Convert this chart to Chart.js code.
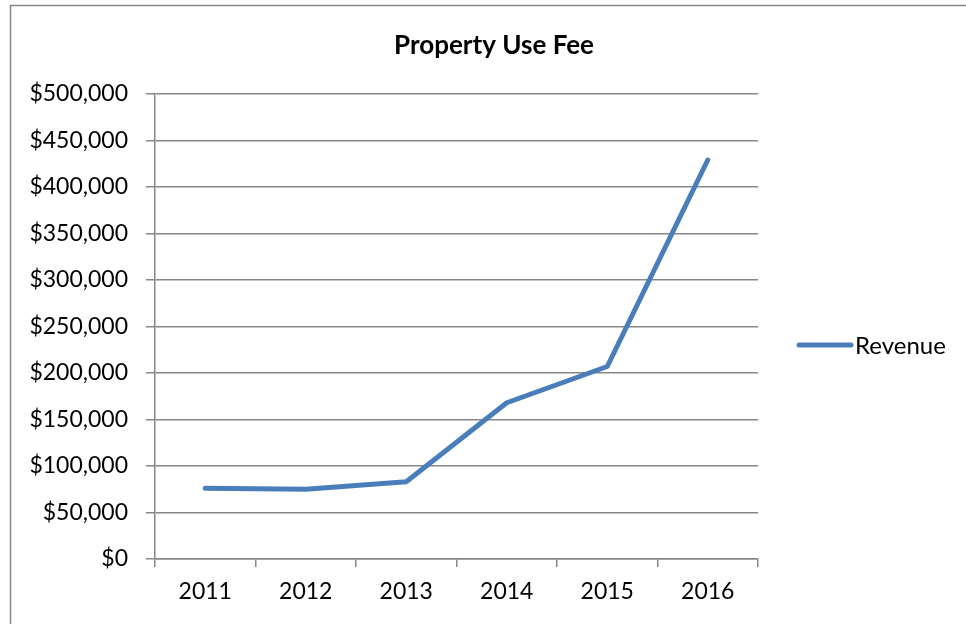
<!DOCTYPE html>
<html>
<head>
<meta charset="utf-8">
<script src="https://cdn.jsdelivr.net/npm/chart.js@4/dist/chart.umd.min.js"></script>
<style>
html,body{margin:0;padding:0;background:#fff;}
#wrap{width:966px;height:624px;position:relative;}
</style>
</head>
<body>
<div id="wrap"><canvas id="c" width="966" height="624"></canvas></div>
<script>
const chartTitle = "Property Use Fee";
const categories = ["2011", "2012", "2013", "2014", "2015", "2016"];
const seriesLabel = "Revenue";
const revenue = [76000, 75000, 83000, 168000, 207000, 429000];
const yTicks = [0, 50000, 100000, 150000, 200000, 250000, 300000, 350000, 400000, 450000, 500000];

const FONT = "Lato, 'Liberation Sans', sans-serif";
const LINE = "#4a7ebb";
const GRID = "#878787";

const decor = {
  id: "decor",
  beforeDraw(chart) {
    const ctx = chart.ctx;
    ctx.save();
    ctx.fillStyle = "#fff";
    ctx.fillRect(0, 0, chart.width, chart.height);
    ctx.strokeStyle = "#868686";
    ctx.lineWidth = 1.5;
    ctx.beginPath();
    ctx.moveTo(10.5, chart.height);
    ctx.lineTo(10.5, 5.5);
    ctx.lineTo(chart.width, 5.5);
    ctx.stroke();
    ctx.restore();
  },
  afterDraw(chart) {
    const ctx = chart.ctx;
    ctx.save();
    ctx.fillStyle = "#000";
    ctx.font = "bold 26px " + FONT;
    ctx.textAlign = "center";
    ctx.textBaseline = "middle";
    ctx.fillText(chartTitle, 494, 46);
    // legend
    const ds = chart.data.datasets[0];
    ctx.strokeStyle = ds.borderColor;
    ctx.lineWidth = 5;
    ctx.lineCap = "round";
    ctx.beginPath();
    ctx.moveTo(799, 345);
    ctx.lineTo(851, 345);
    ctx.stroke();
    ctx.font = "24px " + FONT;
    ctx.textAlign = "left";
    ctx.fillText(ds.label, 855, 346);
    ctx.restore();
  }
};

new Chart(document.getElementById("c"), {
  type: "line",
  data: {
    labels: categories,
    datasets: [{
      label: seriesLabel,
      data: revenue,
      borderColor: LINE,
      backgroundColor: LINE,
      borderWidth: 5,
      pointRadius: 0,
      pointHoverRadius: 0,
      tension: 0,
      borderCapStyle: "round",
      borderJoinStyle: "round"
    }]
  },
  options: {
    responsive: false,
    animation: false,
    events: [],
    layout: { padding: { left: 0, right: 208, top: 94, bottom: 0 } },
    plugins: {
      legend: { display: false },
      title: { display: false },
      tooltip: { enabled: false }
    },
    scales: {
      x: {
        type: "category",
        offset: true,
        afterFit(s) { s.height = 65; },
        grid: {
          display: true,
          offset: true,
          drawOnChartArea: false,
          drawTicks: true,
          tickLength: 8,
          color: GRID,
          lineWidth: 1.5
        },
        border: { display: true, color: GRID, width: 1.5 },
        ticks: {
          color: "#000",
          font: { family: FONT, size: 23 },
          padding: 11,
          maxRotation: 0
        }
      },
      y: {
        min: 0,
        max: 500000,
        afterFit(s) { s.width = 155; },
        afterBuildTicks(s) { s.ticks = yTicks.map(v => ({ value: v })); },
        grid: {
          color: GRID,
          lineWidth: 1.5,
          drawTicks: true,
          tickLength: 9
        },
        border: { display: true, color: GRID, width: 1.5 },
        ticks: {
          color: "#000",
          font: { family: FONT, size: 23 },
          padding: 18,
          callback: v => "$" + Number(v).toLocaleString("en-US")
        }
      }
    }
  },
  plugins: [decor]
});
</script>
</body>
</html>
